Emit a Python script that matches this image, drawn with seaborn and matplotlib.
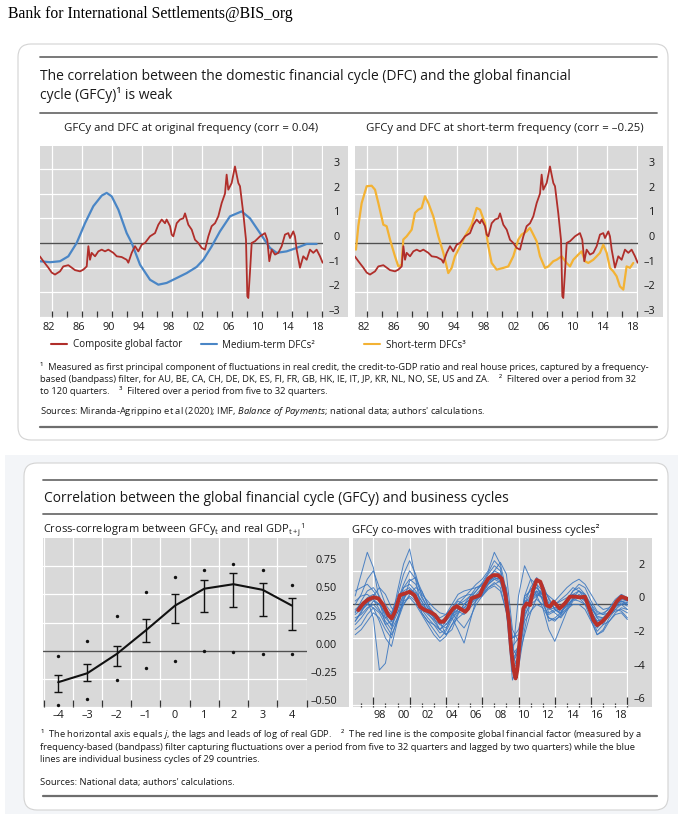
import numpy as np
import pandas as pd
import matplotlib
matplotlib.use("Agg")
import matplotlib.pyplot as plt
from matplotlib.patches import FancyBboxPatch
from matplotlib.lines import Line2D
import seaborn as sns

# ---------------- data ----------------
# composite global factor (top panels)
gfcy_years = [1981.33, 1981.81, 1982.47, 1982.92, 1983.36, 1984.03, 1984.47, 1985.14, 1985.59, 1986.03,
              1986.70, 1987.14, 1987.59, 1987.81, 1988.03, 1988.25, 1988.70, 1989.14, 1989.59, 1990.03,
              1990.47, 1991.14, 1991.59, 1992.25, 1992.92, 1993.14, 1993.59, 1994.03, 1994.47, 1994.92,
              1995.36, 1996.03, 1996.70, 1997.14, 1997.59, 1998.03, 1998.25, 1998.70, 1998.92, 1999.14,
              1999.59, 2000.03, 2000.47, 2000.70, 2001.14, 2001.59, 2002.03, 2002.47, 2002.92, 2003.36,
              2003.81, 2004.25, 2004.70, 2005.14, 2005.59, 2006.03, 2006.25, 2006.47, 2006.92, 2007.36,
              2007.81, 2008.03, 2008.47, 2008.83, 2009.01, 2009.14, 2009.36, 2009.59, 2010.03, 2010.70,
              2011.36, 2011.67, 2011.94, 2012.25, 2012.70, 2013.14, 2013.59, 2014.03, 2014.47, 2014.70,
              2015.14, 2015.36, 2015.59, 2016.03, 2016.47, 2016.92, 2017.36, 2017.81, 2018.25, 2018.70,
              2019.05]
gfcy_vals = [-0.54, -0.74, -1.00, -1.20, -1.28, -1.15, -0.95, -0.90, -1.00, -1.10,
             -1.15, -1.08, -0.95, -0.13, -0.68, -0.40, -0.54, -0.34, -0.27, -0.34,
             -0.27, -0.40, -0.54, -0.57, -0.68, -0.80, -0.40, -0.13, -0.34, -0.07,
             0.00, 0.27, 0.40, 0.74, 0.95, 0.80, 0.95, 0.68, 0.34, 0.27,
             0.80, 0.95, 1.00, 1.20, 0.74, 0.54, 0.13, 0.00, -0.20, -0.27,
             0.27, 0.68, 0.80, 1.08, 1.62, 2.00, 2.77, 2.16, 2.43, 3.10,
             2.43, 2.30, 1.20, 0.13, -2.16, -2.23, -1.20, 0.00, 0.07, 0.27,
             0.40, 0.13, -0.74, -0.27, -0.47, -0.40, -0.13, 0.34, 0.40, 0.20,
             0.47, 0.27, -0.27, -1.00, -0.54, -0.68, -0.27, -0.40, -0.27, -0.54,
             -0.80]

# medium-term DFCs
mt_years = [1981.33, 1982.70, 1984.03, 1985.14, 1986.25, 1987.36, 1988.47, 1989.59, 1990.25, 1990.92,
            1991.81, 1992.92, 1993.59, 1994.70, 1996.03, 1997.14, 1998.25, 1999.59, 2000.92, 2002.25,
            2003.14, 2004.25, 2005.36, 2006.70, 2008.25, 2009.36, 2010.70, 2012.03, 2012.92, 2014.25,
            2015.59, 2016.92, 2018.25]
mt_vals = [-0.74, -0.78, -0.74, -0.54, 0.00, 0.80, 1.49, 1.92, 2.03, 1.89,
           1.35, 0.40, 0.00, -0.88, -1.49, -1.69, -1.62, -1.42, -1.22, -0.97,
           -0.68, -0.14, 0.47, 1.08, 1.28, 1.00, 0.40, -0.20, -0.40, -0.34,
           -0.20, -0.04, -0.04]

# short-term DFCs
st_years = [1981.49, 1981.80, 1982.25, 1982.92, 1983.58, 1984.03, 1984.47, 1985.14, 1985.58, 1986.03,
            1986.69, 1987.14, 1987.58, 1987.80, 1988.25, 1988.92, 1989.36, 1989.80, 1990.25, 1990.69,
            1991.14, 1991.80, 1992.47, 1993.14, 1993.80, 1994.25, 1994.69, 1995.36, 1996.03, 1996.92,
            1997.58, 1998.03, 1998.69, 1999.14, 1999.58, 2000.25, 2001.14, 2001.80, 2002.47, 2003.14,
            2003.58, 2004.25, 2004.69, 2005.14, 2005.58, 2006.03, 2006.69, 2007.14, 2007.80, 2008.25,
            2008.92, 2009.58, 2010.03, 2010.47, 2011.14, 2011.58, 2012.03, 2012.47, 2013.14, 2014.03,
            2014.47, 2014.92, 2015.36, 2015.80, 2016.25, 2016.69, 2017.14, 2017.58, 2018.03, 2018.47]
st_vals = [-0.27, 0.68, 1.62, 2.30, 2.32, 2.16, 1.62, 0.74, 0.68, 0.14,
           -0.54, -0.95, -0.88, 0.14, 0.27, 0.54, 1.22, 1.35, 1.42, 1.89,
           1.62, 1.08, 0.27, -0.40, -1.22, -1.01, -0.54, -0.14, 0.27, 0.74,
           1.42, 1.35, 0.80, -0.14, -0.81, -1.08, -1.01, -0.95, -0.54, 0.14,
           0.34, 0.47, 0.61, 0.34, 0.07, -0.54, -1.01, -0.95, -0.74, -0.68,
           -0.54, -0.81, -0.95, -0.68, -0.47, -0.34, -0.74, -0.81, -0.68, -0.40,
           -0.07, -0.40, -1.01, -1.15, -1.35, -1.76, -1.89, -0.95, -1.01, -0.81]

# cross-correlogram
lags = [-4, -3, -2, -1, 0, 1, 2, 3, 4]
lag_labels = ["–4", "–3", "–2", "–1", "0", "1", "2", "3", "4"]
cc_mean = [-0.28, -0.20, -0.03, 0.18, 0.40, 0.55, 0.59, 0.54, 0.40]
cc_hi = [-0.22, -0.12, 0.045, 0.28, 0.50, 0.63, 0.69, 0.60, 0.47]
cc_lo = [-0.37, -0.27, -0.135, 0.075, 0.25, 0.34, 0.39, 0.305, 0.18]
cc_max = [-0.05, 0.09, 0.31, 0.52, 0.65, 0.72, 0.77, 0.72, 0.58]
cc_min = [-0.485, -0.425, -0.26, -0.15, -0.09, -0.006, -0.015, -0.03, -0.03]

# composite factor vs business cycles
bc_red_years = [1996.76, 1997.17, 1997.59, 1998.00, 1998.41, 1998.83, 1999.24, 1999.52, 1999.79, 2000.20,
                2000.60, 2001.00, 2001.40, 2001.86, 2002.27, 2002.68, 2003.10, 2003.50, 2003.80, 2004.20,
                2004.60, 2004.90, 2005.16, 2005.60, 2005.85, 2006.10, 2006.50, 2006.80, 2007.10, 2007.50,
                2007.90, 2008.30, 2008.60, 2008.90, 2009.20, 2009.40, 2009.60, 2009.76, 2009.90, 2010.10,
                2010.40, 2010.67, 2010.95, 2011.20, 2011.50, 2011.80, 2012.05, 2012.30, 2012.60, 2012.90,
                2013.15, 2013.40, 2013.84, 2014.25, 2014.67, 2015.08, 2015.50, 2015.80, 2016.20, 2016.50,
                2016.90, 2017.30, 2017.70, 2018.10, 2018.50, 2018.90, 2019.05]
bc_red_vals = [-0.34, 0.06, 0.30, 0.42, 0.36, -0.04, -0.63, -0.83, -0.44, 0.55,
               0.65, 0.75, 0.55, -0.14, -0.34, -0.44, -0.63, -1.03, -1.03, -0.63,
               -0.24, -0.10, -0.24, -0.44, -0.24, 0.36, 0.46, 0.55, 1.05, 1.54,
               1.74, 1.74, 1.54, 0.65, -0.93, -2.71, -3.90, -4.40, -3.90, -2.12,
               -0.24, 0.06, -0.04, 0.85, 1.45, 1.35, 0.85, -0.04, -0.14, 0.16,
               -0.04, -0.24, 0.06, 0.46, 0.46, 0.42, 0.46, -0.14, -0.93, -1.23,
               -1.03, -0.73, -0.34, 0.16, 0.46, 0.36, 0.30]

bc_years = np.arange(1996.5, 2019.01, 0.5)
bc_lines = {
    "c01": [0.5, 1.8, 3.1, 2.2, 0.2, -1.2, -1.0, 0.8, 2.4, 3.3, 1.5, -0.5, -1.0, -1.2, -1.5, -1.0,
            -0.3, 0.2, 0.0, 0.3, 0.8, 1.2, 1.8, 2.3, 2.0, 0.5, -3.0, -2.5, 0.5, 0.8, 1.0, 0.5,
            -0.5, -0.3, -0.5, 0.2, 0.8, 1.0, 0.6, -0.2, -0.8, -0.8, -0.4, 0.0, 0.3, 0.2],
    "c02": [-1.0, -0.5, 0.3, -0.8, -3.9, -3.5, -1.5, 0.0, 1.0, 1.2, 0.8, 0.2, -0.5, -1.0, -1.5, -1.2,
            -0.8, -1.5, -2.3, -1.0, 0.3, 0.8, 1.2, 1.5, 1.3, 0.0, -3.8, -3.5, -0.5, 0.5, 0.8, 0.3,
            -1.0, -0.8, -0.5, 0.0, 0.3, 0.5, 0.4, -0.8, -1.6, -1.2, -0.6, -0.1, 0.0, -0.3],
    "c03": [-0.5, 0.2, 0.8, 1.0, 0.5, -0.5, -1.0, 0.0, 0.8, 1.0, 0.6, 0.0, -0.3, -0.6, -1.2, -1.4,
            -0.8, -0.3, -0.2, 0.2, 0.6, 1.0, 1.6, 2.0, 1.8, 0.8, -2.5, -2.0, 0.2, 0.3, 0.6, 0.4,
            -0.2, 0.0, 0.2, 0.4, 0.6, 0.5, 0.2, -0.3, -0.6, -0.5, -0.3, 0.0, 0.2, 0.0],
    "c04": [-1.2, -0.8, -0.3, 0.2, 0.0, -0.6, -1.3, -0.5, 0.4, 0.8, 0.5, -0.3, -0.8, -1.2, -1.7, -1.5,
            -0.6, 0.0, 0.2, 0.5, 0.8, 1.3, 1.9, 2.6, 2.2, 0.2, -4.0, -3.0, 0.0, 0.6, 1.0, 0.6,
            -0.2, -0.5, -0.8, -0.3, 0.3, 0.6, 0.3, -0.6, -1.4, -1.0, -0.5, -0.2, 0.1, -0.1],
    "c05": [0.2, 0.5, 0.6, 0.3, -0.3, -1.0, -1.5, -0.8, 0.2, 1.4, 1.6, 0.8, 0.0, -0.5, -0.8, -0.6,
            -0.2, 0.3, 0.5, 0.6, 0.5, 0.7, 1.2, 1.5, 1.6, 1.0, -2.0, -1.8, 0.5, 1.5, 1.2, 0.2,
            -0.8, -1.0, -0.6, 0.2, 0.8, 1.2, 1.0, 0.2, -0.4, -0.6, -0.5, -0.3, 0.0, 0.1],
    "c06": [-0.8, -0.6, -0.2, 0.0, -0.4, -0.8, -0.6, 0.3, 1.0, 1.5, 1.2, 0.4, -0.2, -0.6, -1.0, -1.8,
            -1.5, -0.6, 0.0, 0.3, 0.4, 0.6, 1.0, 1.3, 1.0, -0.5, -3.2, 0.5, 2.3, 1.5, 0.5, -0.2,
            -1.5, -2.2, -1.3, -0.4, 0.2, 0.4, 0.3, -0.2, -0.7, -0.8, -0.6, -0.4, -0.3, -0.5],
    "c07": [-1.5, -1.2, -0.6, -0.2, -0.5, -1.2, -1.8, -1.0, 0.0, 0.5, 0.2, -0.5, -1.0, -1.5, -2.0, -1.6,
            -0.9, -0.4, -0.6, -0.2, 0.2, 0.6, 1.2, 1.8, 1.5, 0.0, -3.5, -2.8, -0.6, 0.0, 0.3, 0.0,
            -0.6, -0.4, -0.2, 0.2, 0.5, 0.4, 0.0, -0.9, -1.8, -1.5, -0.8, -0.3, -0.4, -0.8],
    "c08": [0.8, 1.0, 1.2, 0.8, 0.2, -0.3, -0.6, 0.2, 1.2, 2.0, 1.5, 0.6, 0.2, -0.2, -0.5, -0.6,
            0.0, 0.6, 0.8, 0.9, 1.0, 1.1, 1.5, 2.0, 2.5, 1.8, -1.5, -2.2, -0.8, 0.2, 0.5, 0.8,
            0.5, 0.2, 0.6, 1.0, 1.3, 1.5, 1.2, 0.6, 0.0, -0.3, -0.2, 0.1, 0.4, 0.2],
    "c09": [-0.3, 0.0, 0.4, 0.6, 0.2, -0.8, -1.2, -0.3, 0.6, 0.8, 0.4, -0.2, -0.6, -0.9, -1.2, -0.9,
            -0.4, -0.1, -0.3, 0.0, 0.5, 0.9, 1.4, 1.6, 1.4, 0.6, -3.0, -3.8, -1.5, 0.2, 0.8, 0.6,
            0.0, -0.2, -0.4, -0.1, 0.3, 0.2, 0.0, -0.5, -1.0, -0.8, -0.4, 0.0, 0.2, 0.1],
    "c10": [-0.6, -0.3, 0.0, 0.5, 1.0, 0.6, -0.2, -0.5, 0.0, 0.6, 1.0, 0.8, 0.0, -0.8, -1.5, -1.8,
            -1.2, -0.5, 0.0, 0.5, 1.0, 1.2, 1.5, 1.8, 1.6, 0.5, -2.6, -3.2, -1.8, -0.5, 0.4, 1.0,
            0.4, -0.3, -0.6, -0.2, 0.4, 0.8, 0.6, 0.0, -0.5, -0.6, -0.2, 0.3, 0.6, 0.4],
    "c11": [-1.0, -0.4, 0.0, -0.2, -1.0, -2.0, -2.5, -1.0, 0.3, 0.9, 0.7, 0.2, -0.4, -0.8, -1.0, -0.8,
            -0.5, -1.0, -1.4, -0.8, 0.0, 0.5, 1.0, 1.2, 1.4, 0.8, -2.0, -1.5, 0.0, 1.0, 1.6, 1.2,
            0.3, -0.3, -0.5, 0.0, 0.6, 0.8, 0.5, 0.0, -0.8, -1.2, -1.0, -0.5, -0.2, -0.3],
    "c12": [0.0, 0.6, 1.5, 2.0, 1.0, 0.0, -0.5, 0.5, 1.8, 2.6, 1.8, 0.5, -0.2, -0.5, -0.9, -1.2,
            -0.7, 0.0, 0.4, 0.8, 1.2, 1.5, 2.0, 3.1, 2.4, 0.8, -3.6, -2.4, 0.3, 0.9, 1.2, 0.8,
            0.1, 0.0, 0.3, 0.6, 1.0, 0.8, 0.3, -0.4, -1.1, -1.0, -0.6, -0.1, 0.4, 0.3],
    "c13": [-0.4, -0.2, 0.1, 0.3, 0.0, -0.5, -0.9, -0.2, 0.5, 0.7, 0.3, -0.1, -0.5, -0.7, -1.1, -1.0,
            -0.6, -0.3, -0.2, 0.1, 0.4, 0.8, 1.3, 1.6, 1.5, 0.4, -3.3, -2.6, -0.2, 0.4, 0.7, 0.4,
            -0.3, -0.2, -0.1, 0.3, 0.5, 0.5, 0.2, -0.4, -1.0, -0.9, -0.5, -0.1, 0.2, 0.0],
    "c14": [-1.8, -1.5, -1.0, -0.5, -0.8, -1.5, -2.0, -0.8, 0.2, 0.4, 0.0, -0.6, -1.2, -1.8, -2.2, -1.9,
            -1.2, -0.8, -0.5, 0.0, 0.3, 0.5, 0.9, 1.1, 0.8, -0.4, -4.5, -3.4, -1.0, -0.4, 0.0, -0.2,
            -0.8, -0.9, -0.7, -0.3, 0.0, 0.0, -0.3, -1.0, -1.8, -1.6, -1.0, -0.6, -0.5, -0.9],
}

top_ticks = [-3, -2, -1, 0, 1, 2, 3]
top_tick_labels = ["–3", "–2", "–1", "0", "1", "2", "3"]
top_year_labels = ["82", "86", "90", "94", "98", "02", "06", "10", "14", "18"]
cc_ticks = [-0.5, -0.25, 0, 0.25, 0.5, 0.75]
cc_tick_labels = ["–0.50", "–0.25", "0.00", "0.25", "0.50", "0.75"]
bc_ticks = [-6, -4, -2, 0, 2]
bc_tick_labels = ["–6", "–4", "–2", "0", "2"]
bc_year_labels = ["98", "00", "02", "04", "06", "08", "10", "12", "14", "16", "18"]

# ---------------- style ----------------
sns.set_theme(style="white")
plt.rcParams["font.family"] = ["Open Sans", "DejaVu Sans"]
plt.rcParams["mathtext.fontset"] = "custom"
plt.rcParams["mathtext.rm"] = "Open Sans"
plt.rcParams["mathtext.it"] = "Open Sans:italic"
plt.rcParams["mathtext.default"] = "regular"

RED = "#b02e2a"
BLUE = "#4a86c6"
BLUE2 = "#3d78c0"
YELLOW = "#f3b234"
GREY_BG = "#d9d9d9"
ZERO = "#505050"
TICK = "#333333"
TXT = "#1a1a1a"
RULE = "#6e6e6e"
TICKFS = 7.8
FN = 6.75

W, H = 678, 814
fig = plt.figure(figsize=(W / 100, H / 100), dpi=100)
fig.patch.set_facecolor("white")


def axes_px(x0, y0, x1, y1):
    return fig.add_axes([x0 / W, 1 - y1 / H, (x1 - x0) / W, (y1 - y0) / H])


def box_px(x0, y0, x1, y1, style="square,pad=0", **kw):
    fig.add_artist(FancyBboxPatch((x0 / 100, (H - y1) / 100), (x1 - x0) / 100, (y1 - y0) / 100,
                                  boxstyle=style, transform=fig.dpi_scale_trans, **kw))


def rule_px(x0, x1, y, lw=1.3, color=RULE):
    fig.add_artist(Line2D([x0 / W, x1 / W], [1 - y / H] * 2, transform=fig.transFigure,
                          color=color, lw=lw))


def text_px(x, y, s, **kw):
    kw.setdefault("va", "center")
    kw.setdefault("color", TXT)
    fig.text(x / W, 1 - y / H, s, **kw)


def style_axes(ax, xlim, ylim, yticks, ylabels, ypad):
    ax.set_facecolor(GREY_BG)
    for s in ax.spines.values():
        s.set_visible(False)
    ax.set_xlim(*xlim)
    ax.set_ylim(*ylim)
    ax.yaxis.tick_right()
    ax.set_yticks(yticks, ylabels)
    ax.tick_params(axis="y", length=0, pad=ypad, labelsize=TICKFS, labelcolor=TXT,
                   labelright=True, labelleft=False)
    plt.setp(ax.get_yticklabels(), ha="right", va="bottom")
    ax.grid(True, which="major", color="white", lw=0.9)
    ax.set_axisbelow(True)
    ax.axhline(0, color=ZERO, lw=1.0, zorder=1.5)
    ax.set_xlabel("")
    ax.set_ylabel("")


def bottom_ticks(ax, major, minor, majlen, minlen, lab_pos, lab_txt, pad):
    ax.set_xticks(major)
    ax.set_xticks(minor, minor=True)
    ax.tick_params(axis="x", which="both", direction="in", bottom=True, labelbottom=False,
                   color=TICK, width=0.9)
    ax.tick_params(axis="x", which="major", length=majlen)
    ax.tick_params(axis="x", which="minor", length=minlen)
    sec = ax.secondary_xaxis("bottom")
    sec.set_xticks(lab_pos, lab_txt)
    sec.tick_params(length=0, pad=pad, labelsize=TICKFS, labelcolor=TXT)
    for s in sec.spines.values():
        s.set_visible(False)


# ---------------- cards ----------------
box_px(5, 455, 678, 814, fc="#f3f5f8", ec="none", zorder=-6)
box_px(18, 44, 668, 440, style="round,pad=0,rounding_size=0.13", fc="white", ec="#d3d3d3",
       lw=0.8, zorder=-5)
box_px(24, 463, 668, 810, style="round,pad=0,rounding_size=0.13", fc="white", ec="#d3d3d3",
       lw=0.8, zorder=-5)

text_px(8, 14, "Bank for International Settlements@BIS_org", family=["Liberation Serif"],
        fontsize=11.3, color="black")

# ---------------- card 1 ----------------
rule_px(40, 657, 57)
text_px(40, 77, "The correlation between the domestic financial cycle (DFC) and the global financial",
        fontsize=10.0)
text_px(40, 95, "cycle (GFCy)¹ is weak", fontsize=10.0)
rule_px(40, 657, 113)
text_px(191, 128, "GFCy and DFC at original frequency (corr = 0.04)", fontsize=8.2, ha="center")
text_px(505, 128, "GFCy and DFC at short-term frequency (corr = –0.25)", fontsize=8.2, ha="center")

year_major = list(range(1983, 2020, 4))
year_minor = list(range(1985, 2018, 4))
year_lab_pos = [y + 0.5 for y in range(1982, 2019, 4)]

panels = [((40, 146, 323, 317), (40, 146, 348, 317), mt_years, mt_vals, BLUE),
          ((355, 146, 638, 317), (355, 146, 663, 317), st_years, st_vals, YELLOW)]
for axpos, greypos, xs, ys, col in panels:
    box_px(*greypos, fc=GREY_BG, ec="none", zorder=-2)
    ax = axes_px(*axpos)
    style_axes(ax, (1981.36, 2019.1), (-3, 3.93), top_ticks, top_tick_labels, 12.2)
    bottom_ticks(ax, year_major, year_minor, 4, 4, year_lab_pos, top_year_labels, 3.5)
    sns.lineplot(x=xs, y=ys, color=col, lw=1.6, ax=ax, legend=False)
    sns.lineplot(x=gfcy_years, y=gfcy_vals, color=RED, lw=1.3, ax=ax, legend=False)
    ax.set_xlabel("")
    ax.set_ylabel("")

h_red = Line2D([], [], color=RED, lw=1.5)
h_blue = Line2D([], [], color=BLUE, lw=1.5)
h_yel = Line2D([], [], color=YELLOW, lw=1.5)
leg_kw = dict(loc="center left", frameon=False, fontsize=7.1, handlelength=1.6, handletextpad=0.6,
              borderpad=0, borderaxespad=0, bbox_transform=fig.transFigure)
for t in fig.legend([h_red, h_blue], ["Composite global factor", "Medium-term DFCs²"], ncol=2,
                    columnspacing=1.9, bbox_to_anchor=(51 / W, 1 - 345 / H), **leg_kw).get_texts():
    t.set_color(TXT)
for t in fig.legend([h_yel], ["Short-term DFCs³"], bbox_to_anchor=(364 / W, 1 - 345 / H),
                    **leg_kw).get_texts():
    t.set_color(TXT)

text_px(40, 367, "¹  Measured as first principal component of fluctuations in real credit, the credit-to-GDP "
        "ratio and real house prices, captured by a frequency-", fontsize=FN)
text_px(40, 379, "based (bandpass) filter, for AU, BE, CA, CH, DE, DK, ES, FI, FR, GB, HK, IE, IT, JP, KR, NL, "
        "NO, SE, US and ZA.    ²  Filtered over a period from 32", fontsize=FN)
text_px(40, 391, "to 120 quarters.    ³  Filtered over a period from five to 32 quarters.", fontsize=FN)
text_px(40, 412, r"Sources: Miranda-Agrippino et al (2020); IMF, $\it{Balance\ of\ Payments}$; national data; "
        "authors' calculations.", fontsize=FN)
rule_px(40, 657, 427, lw=1.6)

# ---------------- card 2 ----------------
rule_px(43, 657, 480)
text_px(44, 498, "Correlation between the global financial cycle (GFCy) and business cycles", fontsize=9.9)
rule_px(43, 657, 514)
text_px(43, 530, r"Cross-correlogram between GFCy$_t$ and real GDP$_{t+j}$$^1$", fontsize=7.9)
text_px(352, 530, "GFCy co-moves with traditional business cycles²", fontsize=8.0)

# cross-correlogram
box_px(43, 538, 349, 707, fc=GREY_BG, ec="none", zorder=-2)
ax = axes_px(43, 538, 306.5, 707)
style_axes(ax, (-4.52, 4.5), (-0.5, 1.0), cc_ticks, cc_tick_labels, 22)
half = [v + 0.5 for v in range(-5, 5)]
bottom_ticks(ax, half, [], 5, 0, lags, lag_labels, 2.5)
ax.errorbar(lags, cc_mean, yerr=[np.subtract(cc_mean, cc_lo), np.subtract(cc_hi, cc_mean)],
            fmt="none", ecolor="#111111", elinewidth=1.0, capsize=3, capthick=1.0, zorder=3)
sns.lineplot(x=lags, y=cc_mean, color="#111111", lw=1.5, ax=ax, legend=False, zorder=3)
sns.scatterplot(x=lags, y=cc_max, color="#111111", s=6, linewidth=0, ax=ax, legend=False, zorder=3)
sns.scatterplot(x=lags, y=cc_min, color="#111111", s=6, linewidth=0, ax=ax, legend=False, zorder=3)
ax.set_xlabel("")
ax.set_ylabel("")

# business cycles
box_px(353, 538, 652, 707, fc=GREY_BG, ec="none", zorder=-2)
ax = axes_px(353, 538, 628, 707)
style_axes(ax, (1996.32, 2019.05), (-6.1, 3.95), bc_ticks, bc_tick_labels, 12.2)
bottom_ticks(ax, list(range(1998, 2020, 3)), list(range(1997, 2020)), 7, 3,
             [y + 0.5 for y in range(1998, 2019, 2)], bc_year_labels, 2.5)
bc_df = pd.DataFrame(bc_lines, index=bc_years).reset_index(names="year").melt(
    id_vars="year", var_name="country", value_name="value")
sns.lineplot(data=bc_df, x="year", y="value", units="country", estimator=None, color=BLUE2,
             lw=0.7, alpha=0.9, ax=ax, legend=False)
sns.lineplot(x=bc_red_years, y=bc_red_vals, color="#b8312a", lw=2.8, ax=ax, legend=False, zorder=4)
ax.set_xlabel("")
ax.set_ylabel("")

text_px(40, 734, r"¹  The horizontal axis equals $\it{j}$, the lags and leads of log of real GDP.    ²  The red "
        "line is the composite global financial factor (measured by a", fontsize=FN)
text_px(40, 747, "frequency-based (bandpass) filter capturing fluctuations over a period from five to 32 "
        "quarters and lagged by two quarters) while the blue", fontsize=FN)
text_px(40, 760, "lines are individual business cycles of 29 countries.", fontsize=FN)
text_px(40, 782, "Sources: National data; authors' calculations.", fontsize=FN)
rule_px(43, 657, 796, lw=1.6)

fig.savefig("out.png", dpi=100)
